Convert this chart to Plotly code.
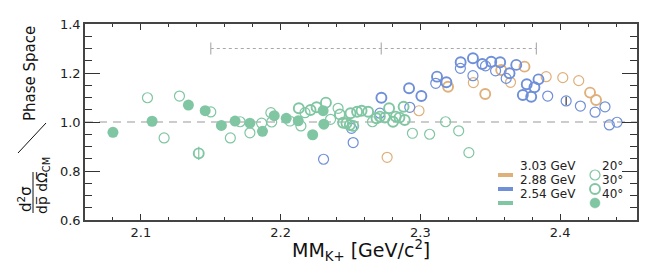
import plotly.graph_objects as go

# ---------------- data ----------------
# 2.54 GeV (green)
g40_x = [2.080, 2.108, 2.134, 2.146, 2.1576, 2.1674, 2.178, 2.187, 2.1954, 2.204, 2.2126, 2.2229, 2.2304, 2.2309]
g40_y = [0.958, 1.003, 1.069, 1.046, 0.986, 1.004, 0.995, 0.962, 1.026, 1.015, 1.005, 0.948, 1.046, 0.991]
g20_x = [2.1047, 2.1166, 2.1276, 2.150, 2.164, 2.171, 2.178, 2.1864, 2.193, 2.1936, 2.2066, 2.2145, 2.2174,
         2.2357, 2.2411, 2.2657, 2.2943, 2.3066, 2.318, 2.3274, 2.3347]
g20_y = [1.099, 0.935, 1.106, 1.041, 0.935, 1.001, 0.956, 0.995, 1.038, 1.000, 1.004, 0.984, 1.038,
         1.011, 1.056, 1.001, 0.954, 0.950, 1.001, 0.964, 0.875]
g30_x = [2.1414, 2.213, 2.2214, 2.2257, 2.2324, 2.2424, 2.2447, 2.2471, 2.2495, 2.252, 2.250, 2.2547,
         2.2579, 2.2626, 2.2686, 2.271, 2.2746, 2.2776, 2.2804, 2.2824, 2.285, 2.288, 2.2888]
g30_y = [0.872, 1.056, 1.049, 1.060, 1.079, 1.031, 0.997, 0.995, 0.988, 0.984, 1.036, 1.042,
         1.046, 1.042, 1.015, 1.022, 1.018, 1.056, 1.001, 1.022, 1.018, 1.062, 1.008]
g30_err = [0.027] + [0.0] * 22

# 2.88 GeV (blue)
b30_x = [2.2721, 2.2919, 2.3007, 2.3119, 2.3186, 2.3288, 2.3376, 2.3443, 2.3507, 2.3571, 2.3638, 2.3686,
         2.3733, 2.3761, 2.3793, 2.3816, 2.3845]
b30_y = [1.099, 1.138, 1.106, 1.185, 1.162, 1.244, 1.260, 1.237, 1.246, 1.244, 1.199, 1.233,
         1.110, 1.154, 1.103, 1.142, 1.174]
b20_x = [2.2307, 2.2519, 2.2507, 2.271, 2.2924, 2.311, 2.3286, 2.3376, 2.3466, 2.3538, 2.3614, 2.3911,
         2.4043, 2.4145, 2.425, 2.4321, 2.4352, 2.4407]
b20_y = [0.848, 0.916, 0.974, 1.036, 1.060, 1.158, 1.219, 1.189, 1.229, 1.209, 1.178, 1.106,
         1.086, 1.065, 1.040, 1.062, 0.988, 0.999]
b20_err = [0.0] * 12 + [0.017] + [0.0] * 5

# 3.03 GeV (orange)
o20_x = [2.2762, 2.299, 2.3379, 2.3645, 2.390, 2.4019, 2.4133]
o20_y = [0.856, 1.046, 1.161, 1.162, 1.185, 1.181, 1.169]
o30_x = [2.3198, 2.3464, 2.3578, 2.3745, 2.4214, 2.4257]
o30_y = [1.144, 1.114, 1.212, 1.226, 1.120, 1.090]

energy_labels = ["3.03 GeV", "2.88 GeV", "2.54 GeV"]
angle_labels = ["20°", "30°", "40°"]
range_marks = [2.15, 2.272, 2.383]
range_level = 1.3
x_ticks = [2.1, 2.2, 2.3, 2.4]
y_ticks = [0.6, 0.8, 1.0, 1.2, 1.4]

GREEN = "#80c6a2"
BLUE = "#6f8fd8"
ORANGE = "#dfb07a"
energy_colors = [ORANGE, BLUE, GREEN]

fig = go.Figure()


def ring(x, y, col, w, err=None, errcol=None):
    tr = go.Scatter(x=x, y=y, mode="markers", showlegend=False, hoverinfo="skip",
                    marker=dict(symbol="circle-open", size=10, color=col, line=dict(width=w, color=col)))
    if err is not None:
        tr.error_y = dict(type="data", array=err, visible=True, color=errcol, thickness=1.2, width=0)
    return tr


fig.add_trace(ring(o20_x, o20_y, ORANGE, 1.2))
fig.add_trace(ring(o30_x, o30_y, ORANGE, 1.9))
fig.add_trace(ring(b20_x, b20_y, BLUE, 1.2, b20_err, "#333333"))
fig.add_trace(ring(b30_x, b30_y, BLUE, 1.9))
fig.add_trace(ring(g20_x, g20_y, GREEN, 1.2))
fig.add_trace(ring(g30_x, g30_y, GREEN, 1.9, g30_err, GREEN))
fig.add_trace(go.Scatter(x=g40_x, y=g40_y, mode="markers", showlegend=False, hoverinfo="skip",
                         marker=dict(symbol="circle", size=11, color=GREEN, line=dict(width=0))))

# ---------------- layout ----------------
L, R, T, B = 85, 27, 24, 48
W, H = 664, 268
PW, PH = W - L - R, H - T - B


def px(xp):
    return (xp - L) / PW


def py(yp):
    return (H - B - yp) / PH


shapes = []
shapes.append(dict(type="line", xref="paper", yref="y", x0=0, x1=1, y0=1.0, y1=1.0, layer="below",
                   line=dict(color="#9a9a9a", width=1.2, dash="8px,6px")))
shapes.append(dict(type="line", xref="x", yref="y", x0=range_marks[0], x1=range_marks[-1],
                   y0=range_level, y1=range_level, line=dict(color="#a8a8a8", width=1.2, dash="dot")))
for xm in range_marks:
    shapes.append(dict(type="line", xref="x", yref="y", x0=xm, x1=xm, y0=range_level - 0.025,
                       y1=range_level + 0.025, line=dict(color="#b0b0b0", width=1.2)))

axis_common = dict(showline=True, linecolor="#444444", linewidth=1.5, mirror="ticks", ticks="inside",
                   tickcolor="#333333", showgrid=False, zeroline=False,
                   tickfont=dict(family="DejaVu Sans", size=13, color="#222222"))

fig.update_xaxes(range=[2.06, 2.455], tickvals=x_ticks, ticktext=[f"{v:.1f}" for v in x_ticks],
                 ticklen=6, tickwidth=1.3,
                 minor=dict(ticks="inside", dtick=0.02, tick0=2.0, ticklen=3, tickcolor="#333333", tickwidth=1),
                 **axis_common)
fig.update_yaxes(range=[0.6, 1.4], tickvals=y_ticks, ticktext=[f"{v:.1f}" for v in y_ticks],
                 ticklen=15, tickwidth=1.3,
                 minor=dict(ticks="inside", dtick=0.05, tick0=0.6, ticklen=7, tickcolor="#333333", tickwidth=1),
                 **axis_common)

ann = []
TXT = "#111111"
# x-axis title
ann.append(dict(x=px(361), y=py(250), xref="paper", yref="paper", showarrow=False,
                xanchor="center", yanchor="middle",
                text="MM<sub>K+</sub> [GeV/c<sup>2</sup>]",
                font=dict(family="DejaVu Sans", size=19, color=TXT)))
# y-axis title parts (rotated)
ann.append(dict(x=px(30), y=py(74), xref="paper", yref="paper", showarrow=False, textangle=-90,
                xanchor="center", yanchor="middle",
                text="Phase Space", font=dict(family="DejaVu Sans", size=15, color=TXT)))
ann.append(dict(x=px(25), y=py(199), xref="paper", yref="paper", showarrow=False, textangle=-90,
                xanchor="center", yanchor="middle",
                text="d<sup>2</sup>σ", font=dict(family="DejaVu Sans", size=15, color=TXT)))
ann.append(dict(x=px(43), y=py(186), xref="paper", yref="paper", showarrow=False, textangle=-90,
                xanchor="center", yanchor="middle",
                text="dp\u0305 dΩ\u0305<sub>CM</sub>", font=dict(family="DejaVu Sans", size=14, color=TXT)))

shapes.append(dict(type="line", xref="paper", yref="paper", x0=px(33), x1=px(33), y0=py(213), y1=py(172),
                   line=dict(color=TXT, width=1)))
shapes.append(dict(type="line", xref="paper", yref="paper", x0=px(18), x1=px(46), y0=py(153), y1=py(123),
                   line=dict(color=TXT, width=1)))

# legend (manual)
leg_y = [175, 189, 203]
for lab, col, yy in zip(energy_labels, energy_colors, leg_y):
    shapes.append(dict(type="line", xref="paper", yref="paper", x0=px(498), x1=px(513), y0=py(yy), y1=py(yy),
                       line=dict(color=col, width=4)))
    ann.append(dict(x=px(518), y=py(yy), xref="paper", yref="paper", xanchor="left", showarrow=False,
                    text=lab, font=dict(family="DejaVu Sans", size=12, color="#222222")))
ring_w = [1.2, 1.9, 0]
for lab, yy, w in zip(angle_labels, leg_y, ring_w):
    cx, cy = px(595), py(yy)
    shp = dict(type="circle", xref="paper", yref="paper", xsizemode="pixel", ysizemode="pixel",
               xanchor=cx, yanchor=cy, x0=-5, x1=5, y0=-5, y1=5)
    if w == 0:
        shp.update(fillcolor=GREEN, line=dict(color=GREEN, width=0.5))
    else:
        shp.update(line=dict(color=GREEN, width=w))
    shapes.append(shp)
    ann.append(dict(x=px(600), y=py(yy), xref="paper", yref="paper", xanchor="left", showarrow=False,
                    text=lab, font=dict(family="DejaVu Sans", size=12, color="#222222")))

fig.update_layout(width=W, height=H, margin=dict(l=L, r=R, t=T, b=B, pad=0),
                  plot_bgcolor="white", paper_bgcolor="white",
                  annotations=ann, shapes=shapes, showlegend=False)

fig.write_html("out.html", config={"displayModeBar": False},
               post_script="document.body.style.margin='0';document.body.style.overflow='hidden';")
